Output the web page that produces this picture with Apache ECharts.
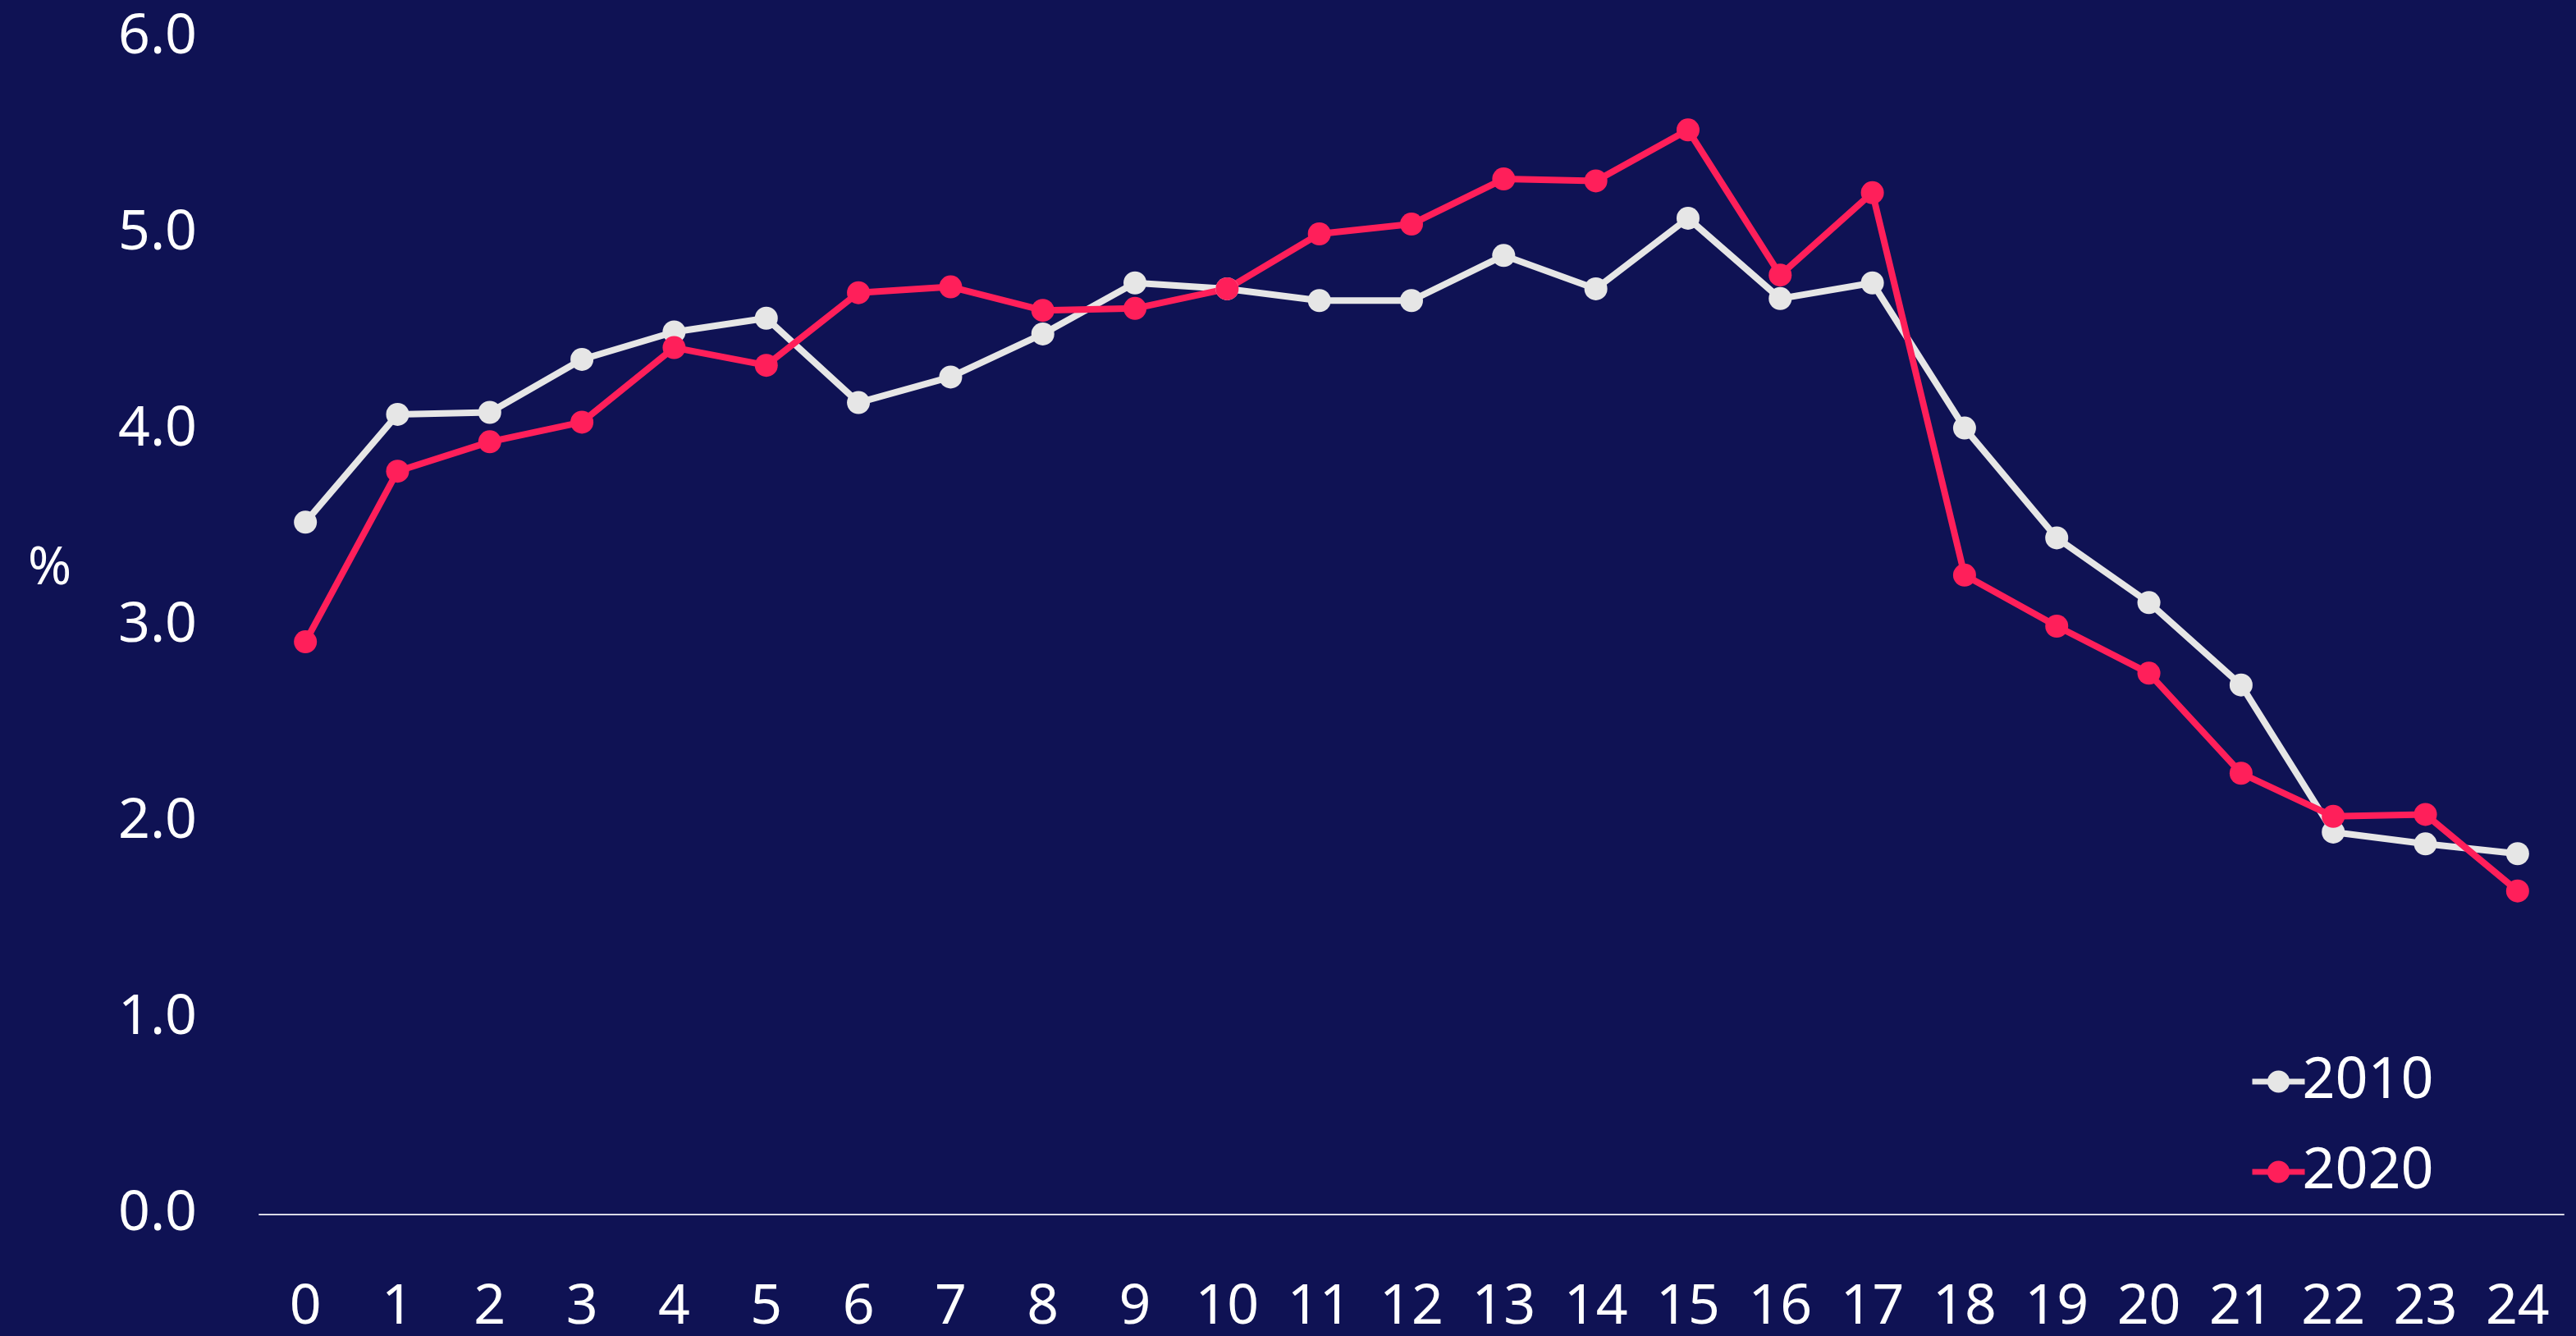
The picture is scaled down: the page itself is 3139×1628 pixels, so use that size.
<!DOCTYPE html>
<html>
<head>
<meta charset="utf-8">
<script src="https://cdn.jsdelivr.net/npm/echarts@6/dist/echarts.min.js"></script>
<style>
  html, body { margin: 0; padding: 0; background: #0f1254; }
  #chart { width: 3139px; height: 1628px; }
</style>
</head>
<body>
<div id="chart"></div>
<script>
  // hours
  const hours = ['0', '1', '2', '3', '4', '5', '6', '7', '8', '9', '10', '11', '12',
    '13', '14', '15', '16', '17', '18', '19', '20', '21', '22', '23', '24']
  const share2010 = [3.53, 4.08, 4.09, 4.36, 4.50, 4.57, 4.14, 4.27, 4.49, 4.75, 4.72, 4.66, 4.66,
    4.89, 4.72, 5.08, 4.67, 4.75, 4.01, 3.45, 3.12, 2.70, 1.95, 1.89, 1.84]
  const share2020 = [2.92, 3.79, 3.94, 4.04, 4.42, 4.33, 4.70, 4.73, 4.61, 4.62, 4.72, 5.00, 5.05,
    5.28, 5.27, 5.53, 4.79, 5.21, 3.26, 3.00, 2.76, 2.25, 2.03, 2.04, 1.65]

  const font = 'Noto Sans'
  const chart = echarts.init(document.getElementById('chart'))

  const makeSeries = (name, data, color) => ({
    name: name,
    type: 'line',
    data: data,
    symbol: 'circle',
    symbolSize: 28,
    lineStyle: {color: color, width: 8},
    itemStyle: {color: color},
    emphasis: {disabled: true},
    animation: false
  })

  chart.setOption({
    backgroundColor: '#0f1254',
    textStyle: {fontFamily: font},
    grid: {left: 316, right: 15, top: 46, bottom: 146},
    graphic: [{
      type: 'text',
      left: 34,
      top: 662,
      style: {text: '%', fill: '#ffffff', font: '64px "Noto Sans"'}
    }],
    legend: {
      orient: 'vertical',
      left: 2736,
      top: 1278,
      itemWidth: 64,
      itemHeight: 34,
      itemGap: 40,
      lineStyle: {width: 7},
      textStyle: {color: '#ffffff', fontSize: 70, fontFamily: font, padding: [0, 0, 0, -8]},
      data: ['2010', '2020']
    },
    xAxis: {
      type: 'category',
      data: hours,
      boundaryGap: true,
      axisLine: {lineStyle: {color: '#d9d9e6', width: 2}},
      axisTick: {show: false},
      axisLabel: {color: '#ffffff', fontSize: 68, margin: 80, fontFamily: font}
    },
    yAxis: {
      type: 'value',
      min: 0,
      max: 6,
      interval: 1,
      axisLine: {show: false},
      axisTick: {show: false},
      splitLine: {show: false},
      axisLabel: {
        color: '#ffffff',
        fontSize: 68,
        margin: 76,
        fontFamily: font,
        formatter: v => v.toFixed(1)
      }
    },
    series: [
      makeSeries('2010', share2010, '#e6e6e6'),
      makeSeries('2020', share2020, '#ff1f5a')
    ]
  })
</script>
</body>
</html>
